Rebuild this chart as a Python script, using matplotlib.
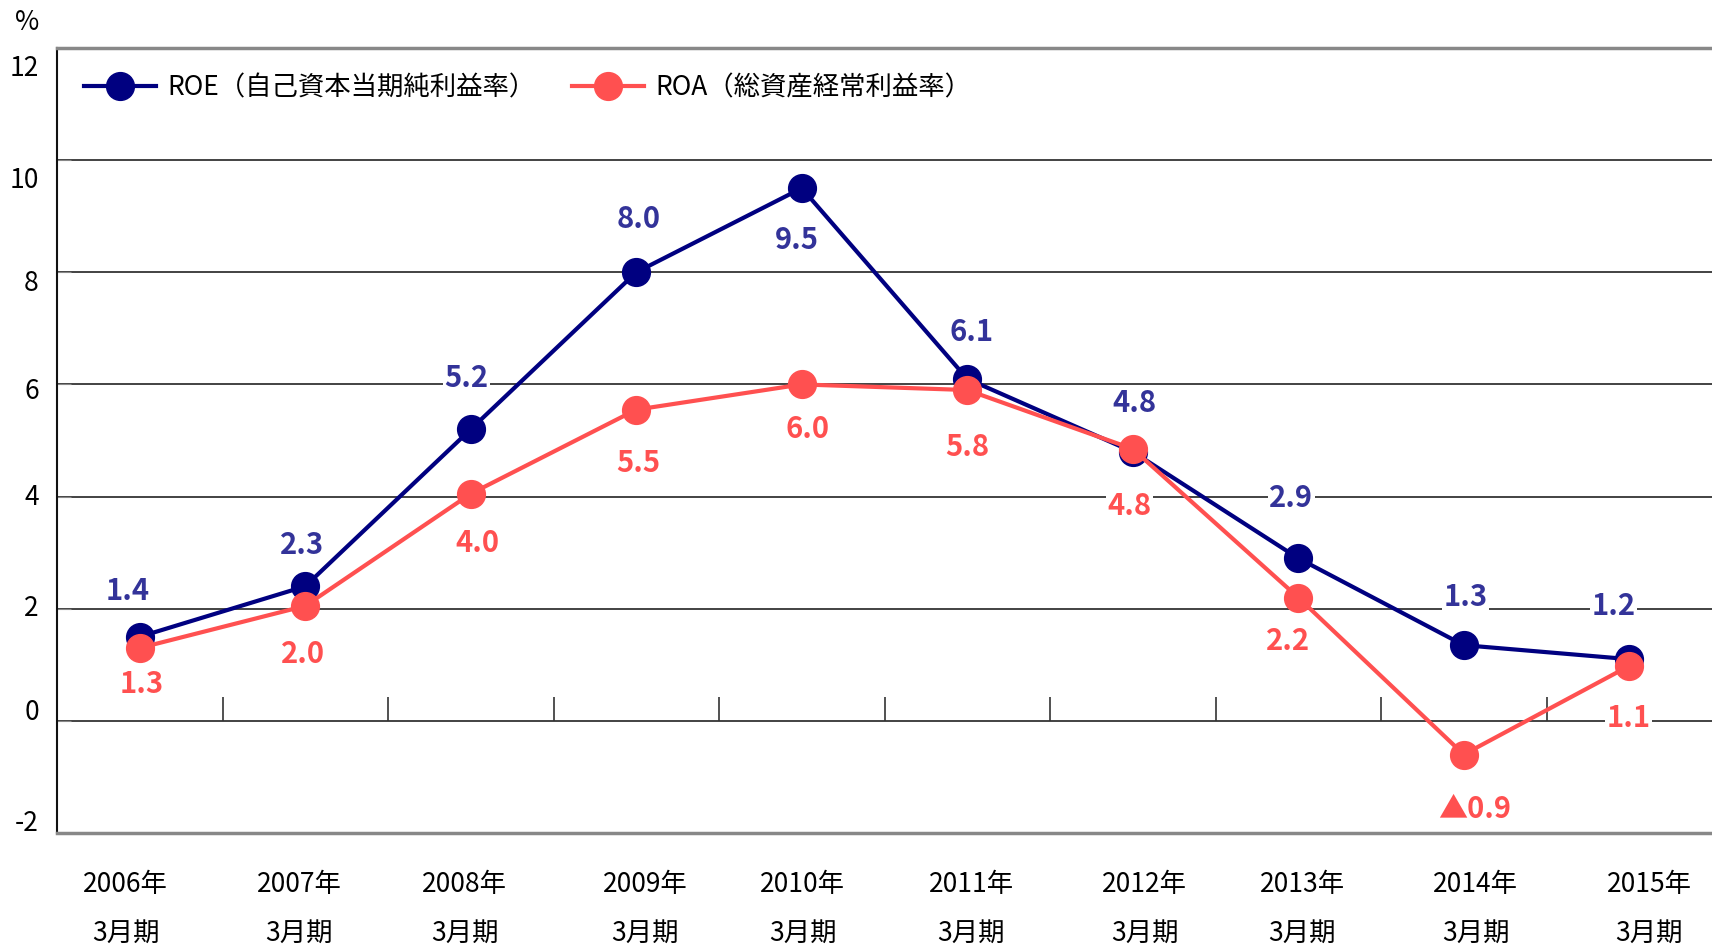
import matplotlib
matplotlib.use("Agg")
import matplotlib.pyplot as plt
from matplotlib.transforms import ScaledTranslation

plt.rcParams['font.family'] = ['Noto Sans CJK JP', 'DejaVu Sans']

# ---- data ----
years = ["2006年", "2007年", "2008年", "2009年", "2010年",
         "2011年", "2012年", "2013年", "2014年", "2015年"]
period = "3月期"
roe = [1.5, 2.4, 5.2, 8.0, 9.5, 6.1, 4.8, 2.9, 1.35, 1.1]
roa = [1.3, 2.05, 4.05, 5.55, 6.0, 5.9, 4.85, 2.2, -0.6, 0.98]
roe_labels = ["1.4", "2.3", "5.2", "8.0", "9.5", "6.1", "4.8", "2.9", "1.3", "1.2"]
roa_labels = ["1.3", "2.0", "4.0", "5.5", "6.0", "5.8", "4.8", "2.2", "▲0.9", "1.1"]
roe_name = "ROE（自己資本当期純利益率）"
roa_name = "ROA（総資産経常利益率）"
yticks = [-2, 0, 2, 4, 6, 8, 10, 12]

# ---- label offsets (pixels) ----
roe_off = [(-12, 46), (-3, 41), (-4, 51), (2, 53), (-5, -52), (4, 47),
           (2, 49), (-7, 60), (2, 48), (-16, 53)]
roa_off = [(2, -36), (-2, -48), (7, -49), (2, -53), (6, -45), (0, -57),
           (-3, -57), (-10, -43), (11, -54), (-1, -52)]
xlab_dx = [-14, -6, -6, 9, 1, 4, 12, 4, 12, 20]          # px
ylab_dy = [-13, -11, -3, -2, 4, 8, 17, 17]               # px, down positive

ROE_C = "#000080"
ROE_T = "#333399"
ROA_C = "#FF5050"

DPI = 100
W, H = 1712, 947
fig = plt.figure(figsize=(W / DPI, H / DPI), dpi=DPI)
L, T, B = 57, 48, 833
ax = fig.add_axes([L / W, 1 - B / H, 1 - L / W, (B - T) / H])

x = list(range(len(years)))
ax.plot(x, roe, color=ROE_C, lw=3.0, marker='o', ms=20, zorder=3,
        label=roe_name)
ax.plot(x, roa, color=ROA_C, lw=3.0, marker='o', ms=20, zorder=4,
        label=roa_name)

for xi, v, s, (dx, dy) in zip(x, roe, roe_labels, roe_off):
    ax.annotate(s, (xi, v), xytext=(dx, dy), textcoords='offset pixels',
                ha='center', va='center', fontsize=21, fontweight='bold',
                color=ROE_T, zorder=6,
                bbox=dict(boxstyle='square,pad=0.05', fc='white', ec='none'))
for xi, v, s, (dx, dy) in zip(x, roa, roa_labels, roa_off):
    ax.annotate(s, (xi, v), xytext=(dx, dy), textcoords='offset pixels',
                ha='center', va='center', fontsize=21, fontweight='bold',
                color=ROA_C, zorder=6,
                bbox=dict(boxstyle='square,pad=0.05', fc='white', ec='none'))

ax.set_xlim(-0.5, len(years) - 0.5)
ax.set_ylim(-2, 12)
ax.set_yticks(yticks)
ax.set_yticklabels([str(t) for t in yticks], fontsize=19)
ax.yaxis.grid(True, color='#222222', lw=1.2)
ax.set_axisbelow(True)
ax.tick_params(axis='y', direction='in', length=10, color='#888888', pad=13)
for lab, dy in zip(ax.get_yticklabels(), ylab_dy):
    lab.set_transform(lab.get_transform() +
                      ScaledTranslation(0, -dy / DPI, fig.dpi_scale_trans))

ax.set_xticks(x)
ax.set_xticklabels([f"{y}\n{period}" for y in years], fontsize=19,
                   linespacing=2.05)
ax.tick_params(axis='x', length=0, pad=27)
for lab, dx in zip(ax.get_xticklabels(), xlab_dx):
    lab.set_transform(lab.get_transform() +
                      ScaledTranslation(dx / DPI, 0, fig.dpi_scale_trans))

# category boundary ticks on the zero line
ax.vlines([i + 0.5 for i in range(len(years) - 1)], 0, 0.43,
          color='#333333', lw=1.2, zorder=2)

ax.spines['right'].set_visible(False)
ax.spines['left'].set_color('#111111')
ax.spines['left'].set_linewidth(1.5)
for s in ('top', 'bottom'):
    ax.spines[s].set_color('#888888')
    ax.spines[s].set_linewidth(2.5)

leg = ax.legend(loc='center left',
                bbox_to_anchor=((84 - L) / (W - L), 1 - (88 - T) / (B - T)),
                ncol=2, frameon=False, fontsize=19, handlelength=2.73,
                handletextpad=0.42, columnspacing=1.4, borderpad=0,
                borderaxespad=0)

fig.text(27 / W, 1 - 22 / H, "%", fontsize=19, ha='center', va='center')

fig.savefig("out.png", dpi=DPI)
